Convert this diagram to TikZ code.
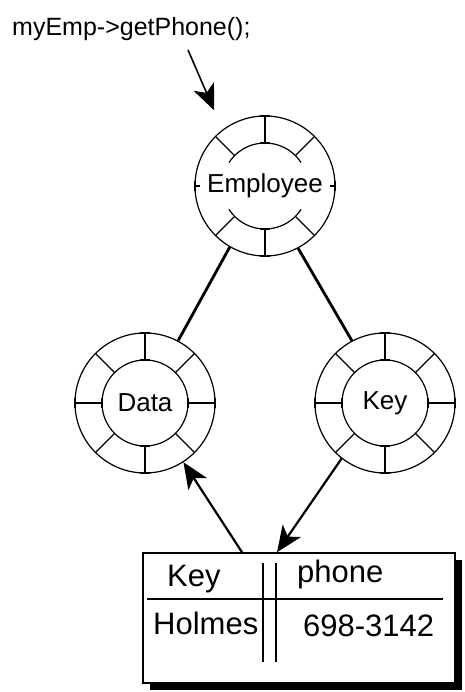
\documentclass[tikz,border=0pt]{standalone}
\usepackage{fontspec}
\setmainfont{Liberation Sans}
\usetikzlibrary{arrows.meta,shadows,calc}
\begin{document}
\begin{tikzpicture}[x=1pt,y=1pt,
  ring/.style={circle,draw,line width=1.2pt,minimum size=140pt,inner sep=0pt,font=\fontsize{26}{30}\selectfont},
  spoke/.style={line width=1.2pt},
  link/.style={line width=2.8pt},
  pointer/.style={line width=2.2pt,-{Stealth[length=26pt,width=22pt,inset=7pt]}},
  cell/.style={anchor=base west,inner sep=0pt,font=\fontsize{31}{36}\selectfont}]
\path[use as bounding box,fill=white] (0,0) rectangle (464,692);

% call text and objects
\node[anchor=base west,inner sep=0pt,font=\fontsize{25}{30}\selectfont] (call) at (12,656) {myEmp->getPhone();};
\node[ring] (emp) at (265,506) {Employee};
\node[ring] (data) at (145,289) {Data};
\node[ring] (key) at (385,289) {Key};

% inner rings
\draw[spoke] ($(emp.center)+(33:43)$) arc (33:147:43);
\draw[spoke] ($(emp.center)+(213:43)$) arc (213:327:43);
\draw[spoke] (data.center) circle (43);
\draw[spoke] (key.center) circle (43);

% spokes, with ticks on the straight ones
\foreach \n in {emp,data,key}{
  \foreach \a in {45,135,225,315}
    \draw[spoke] ($(\n.center)+(\a:43)$) -- ($(\n.center)+(\a:70)$);
  \foreach \a in {90,270}{
    \draw[spoke] ($(\n.center)+(\a:43)$) -- ($(\n.center)+(\a:70)$);
    \draw[spoke] ($(\n.center)+(\a:70)+(\a+90:5)$) -- ($(\n.center)+(\a:70)+(\a-90:5)$);
    \draw[spoke] ($(\n.center)+(\a:43)+(\a+90:5)$) -- ($(\n.center)+(\a:43)+(\a-90:5)$);
  }
  \foreach \a in {0,180}
    \draw[spoke] ($(\n.center)+(\a:70)+(\a+90:5)$) -- ($(\n.center)+(\a:70)+(\a-90:5)$);
}
\foreach \n in {data,key}
  \foreach \a in {0,180}{
    \draw[spoke] ($(\n.center)+(\a:43)$) -- ($(\n.center)+(\a:70)$);
    \draw[spoke] ($(\n.center)+(\a:43)+(\a+90:5)$) -- ($(\n.center)+(\a:43)+(\a-90:5)$);
  }
\foreach \a in {0,180}
  \draw[spoke] ($(emp.center)+(\a:70)$) -- ($(emp.center)+(\a:65)$);

% links
\draw[link] (emp.240) -- (data.62);
\draw[link] (emp.298) -- (key.118);

% table
\node[draw,line width=1.5pt,fill=white,minimum width=312pt,minimum height=130pt,inner sep=0pt,
  drop shadow={shadow xshift=7pt,shadow yshift=-7pt,fill=black,opacity=1}] (tab) at (299,74) {};
\draw[line width=1.5pt] (147,93) -- (443,93);
\draw[line width=1.5pt] (263,129) -- (263,30) (276,129) -- (276,30);
\node[cell] (hkey) at (167,105) {Key};
\node[cell] (hphone) at (297,109) {phone};
\node[cell] (vkey) at (153,57) {Holmes};
\node[cell] (vphone) at (303,55) {698-3142};

% pointers
\coordinate (start) at (188,642);
\draw[pointer,line width=1.6pt,shorten >=21pt] (start) -- (emp.127);
\draw[pointer] ([xshift=-57pt]tab.north) -- (data.-57);
\draw[pointer] (key.232) -- ([xshift=-22pt]tab.north);
\end{tikzpicture}
\end{document}
